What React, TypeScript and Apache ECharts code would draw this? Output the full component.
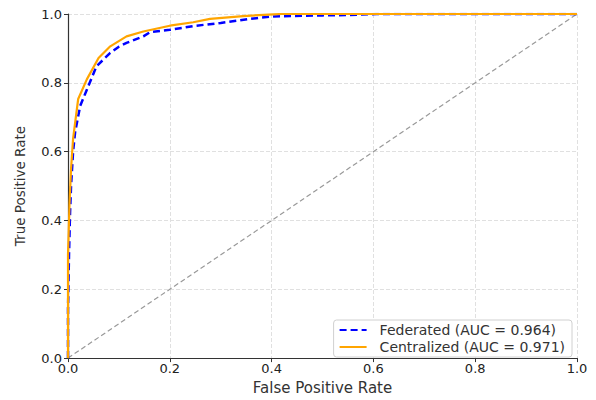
import React, { useEffect, useRef } from "react";
import * as echarts from "echarts";

const federatedName = "Federated (AUC = 0.964)";
const centralizedName = "Centralized (AUC = 0.971)";

const federatedROC: [number, number][] = [
  [0, 0], [0, 0.14], [0.002, 0.3], [0.004, 0.42], [0.006, 0.5], [0.01, 0.6], [0.014, 0.657],
  [0.024, 0.733], [0.037, 0.78], [0.056, 0.848], [0.083, 0.887], [0.1, 0.905],
  [0.115, 0.916], [0.148, 0.935], [0.161, 0.947], [0.2, 0.954], [0.246, 0.965],
  [0.3, 0.974], [0.358, 0.986], [0.403, 0.993], [0.5, 0.996],
  [0.554, 0.997], [0.606, 1.0], [1.0, 1.0],
];

const centralizedROC: [number, number][] = [
  [0, 0], [0, 0.3], [0.003, 0.45], [0.006, 0.55], [0.01, 0.638], [0.02, 0.753],
  [0.037, 0.81], [0.06, 0.872], [0.083, 0.906], [0.115, 0.935], [0.148, 0.949],
  [0.2, 0.966], [0.246, 0.976], [0.279, 0.986], [0.344, 0.994], [0.403, 0.999],
  [0.42, 1.0], [1.0, 1.0],
];

const chanceLine: [number, number][] = [[0, 0], [1, 1]];

export default function App() {
  const ref = useRef<HTMLDivElement>(null);
  useEffect(() => {
    if (!ref.current) return;
    const chart = echarts.init(ref.current, undefined, { renderer: "svg" });
    const font = "DejaVu Sans";
    chart.setOption({
      animation: false,
      backgroundColor: "#fff",
      textStyle: { fontFamily: font },
      grid: { left: 68, right: 19, top: 14, bottom: 38, containLabel: false },
      legend: {
        orient: "vertical",
        right: 24,
        bottom: 43,
        data: [federatedName, centralizedName],
        backgroundColor: "#fff",
        borderColor: "#d0d0d0",
        borderWidth: 1,
        borderRadius: 3,
        padding: [3, 7, 3, 5],
        itemGap: 3,
        itemWidth: 27,
        itemHeight: 10,
        itemStyle: { opacity: 0 },
        textStyle: { fontFamily: font, fontSize: 14, color: "#333", padding: [0, 0, 0, 8] },
      },
      xAxis: {
        type: "value",
        min: 0,
        max: 1,
        interval: 0.2,
        name: "False Positive Rate",
        nameLocation: "middle",
        nameGap: 20,
        nameTextStyle: { fontFamily: font, fontSize: 15, color: "#333", verticalAlign: "top" },
        axisLine: { show: true, lineStyle: { color: "#333", width: 1.2 } },
        axisTick: { show: true, length: 4, lineStyle: { color: "#333" } },
        axisLabel: {
          margin: 4,
          fontFamily: font,
          fontSize: 13,
          color: "#222",
          formatter: (v: number) => v.toFixed(1),
        },
        splitLine: { show: true, lineStyle: { color: "#e0e0e0", type: "dashed", width: 1 } },
      },
      yAxis: {
        type: "value",
        min: 0,
        max: 1,
        interval: 0.2,
        name: "True Positive Rate",
        nameLocation: "middle",
        nameGap: 41,
        nameTextStyle: { fontFamily: font, fontSize: 13.5, color: "#333" },
        axisLine: { show: true, lineStyle: { color: "#333", width: 1.2 } },
        axisTick: { show: true, length: 4, lineStyle: { color: "#333" } },
        axisLabel: {
          margin: 6,
          fontFamily: font,
          fontSize: 13,
          color: "#222",
          formatter: (v: number) => v.toFixed(1),
        },
        splitLine: { show: true, lineStyle: { color: "#e0e0e0", type: "dashed", width: 1 } },
      },
      series: [
        {
          name: "chance",
          type: "line",
          data: chanceLine,
          symbol: "none",
          lineStyle: { color: "#999", type: [5, 3], width: 1.2 },
          z: 1,
        },
        {
          name: federatedName,
          type: "line",
          data: federatedROC,
          symbol: "none",
          itemStyle: { color: "#0000ff" },
          lineStyle: { color: "#0000ff", type: [7, 4], width: 2.5 },
          z: 2,
        },
        {
          name: centralizedName,
          type: "line",
          data: centralizedROC,
          symbol: "none",
          itemStyle: { color: "#ffa500" },
          lineStyle: { color: "#ffa500", width: 2.2 },
          z: 3,
        },
      ],
    });
    return () => chart.dispose();
  }, []);
  return <div ref={ref} style={{ width: 596, height: 400, position: "absolute", left: 0, top: 0 }} />;
}
